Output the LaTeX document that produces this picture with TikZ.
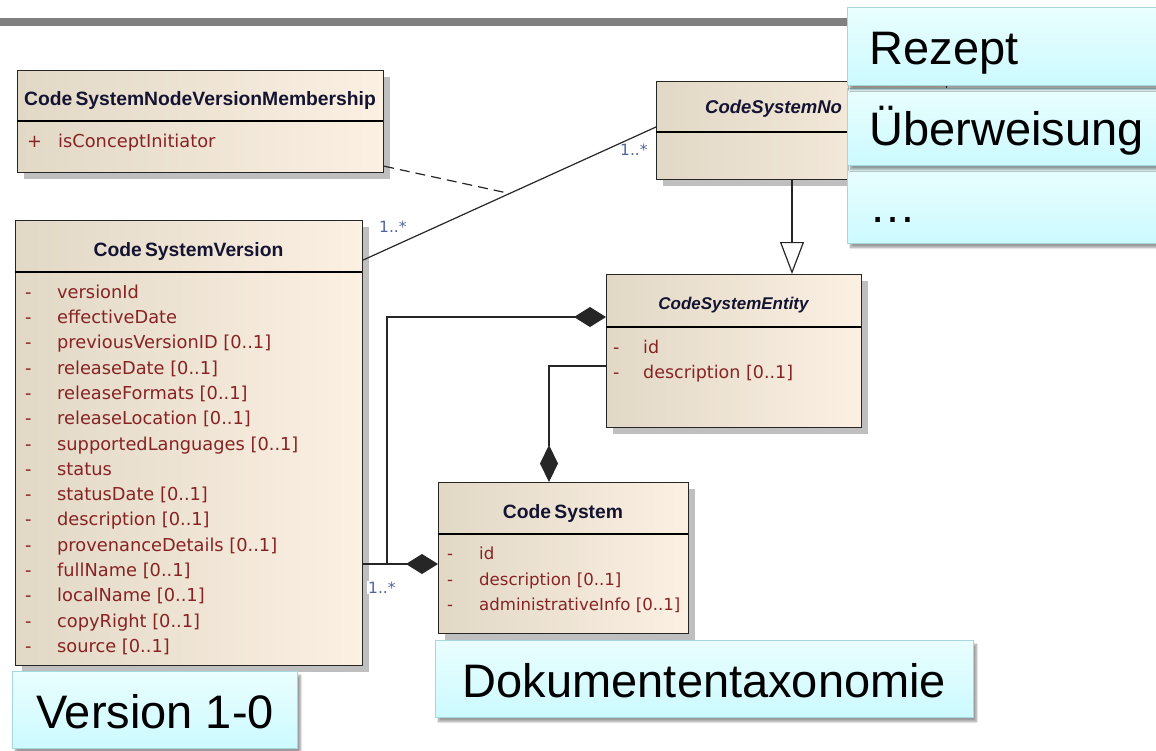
\documentclass[tikz,border=0pt]{standalone}
\usepackage{fontspec}
\setmainfont{Liberation Sans}
\newfontfamily\attrfont{DejaVu Sans}
\usetikzlibrary{arrows.meta,shadows,shadows.blur}

\definecolor{umlleft}{RGB}{226,216,198}
\definecolor{umlright}{RGB}{251,240,226}
\definecolor{umltitle}{RGB}{20,20,50}
\definecolor{umlattr}{RGB}{135,35,35}
\definecolor{multcol}{RGB}{80,100,160}
\definecolor{notetop}{RGB}{234,254,254}
\definecolor{notebot}{RGB}{204,250,255}
\definecolor{noteline}{RGB}{165,215,220}
\definecolor{barcol}{RGB}{128,128,128}

\tikzset{
    umlbox/.style={draw=black!85, line width=1.2pt, left color=umlleft, right color=umlright,
        anchor=north west, inner sep=0pt,
        drop shadow={shadow xshift=6pt, shadow yshift=-6pt, fill=black!25, opacity=1}},
    umlhead/.style={font=\fontsize{19.3}{23}\selectfont\bfseries, text=umltitle, anchor=base, inner sep=0pt},
    umlattrs/.style={font=\attrfont\fontsize{17.8}{25.3}\selectfont, text=umlattr, anchor=north west, inner sep=0pt},
    mult/.style={font=\attrfont\fontsize{15.5}{17}\selectfont, text=multcol, inner sep=1pt, anchor=base west},
    note/.style={draw=noteline, line width=1pt, top color=notetop, bottom color=notebot,
        anchor=north west, inner sep=0pt, text height=36pt, text depth=0pt,
        font=\fontsize{47}{56}\selectfont,
        blur shadow={shadow xshift=3pt, shadow yshift=-4pt, shadow blur steps=6}},
    conn/.style={line width=1.2pt, draw=black!85},
}

\begin{document}
\begin{tikzpicture}[x=1pt, y=-1pt]

    \useasboundingbox (0,0) rectangle (1156,750);

    \fill[barcol] (0,18) rectangle (1156,26);

    % class boxes
    \node[umlbox, minimum width=366pt, minimum height=102pt] (memb) at (17,70) {};
    \node[umlbox, minimum width=347pt, minimum height=445pt] (csv) at (15,220) {};
    \node[umlbox, minimum width=290pt, minimum height=98pt] (csnode) at (656,81) {};
    \node[umlbox, minimum width=255pt, minimum height=153pt] (cse) at (606,274) {};
    \node[umlbox, minimum width=250pt, minimum height=151pt] (cs) at (438,482) {};

    \draw[line width=1.2pt] (memb.north west) ++(0,51) -- ++(366,0);
    \draw[line width=1.2pt] (csv.north west) ++(0,52) -- ++(347,0);
    \draw[line width=1.2pt] (csnode.north west) ++(0,51) -- ++(290,0);
    \draw[line width=1.2pt] (cse.north west) ++(0,53) -- ++(255,0);
    \draw[line width=1.2pt] (cs.north west) ++(0,52) -- ++(250,0);

    \node[umlhead] (membhead) at (200,105) {Code\,SystemNodeVersionMembership};
    \node[umlhead] (csvhead) at (188.5,256) {Code\,SystemVersion};
    \node[umlhead, anchor=base west, font=\fontsize{18.5}{22}\selectfont\bfseries\itshape] (csnodehead) at (705,113) {CodeSystemNo};
    \node[umlhead, font=\fontsize{17}{20}\selectfont\bfseries\itshape] (csehead) at (733.5,309) {CodeSystemEntity};
    \node[umlhead] (cshead) at (563,518) {Code\,System};

    % attributes
    \node[umlattrs] (membattr) at (27,129.3) {\begin{tabular}{@{}p{31pt}@{}l@{}}
        + & isConceptInitiator
    \end{tabular}};
    \node[umlattrs] (csvattr) at (25,280.3) {\begin{tabular}{@{}p{32pt}@{}l@{}}
        - & versionId\\
        - & effectiveDate\\
        - & previousVersionID [0..1]\\
        - & releaseDate [0..1]\\
        - & releaseFormats [0..1]\\
        - & releaseLocation [0..1]\\
        - & supportedLanguages [0..1]\\
        - & status\\
        - & statusDate [0..1]\\
        - & description [0..1]\\
        - & provenanceDetails [0..1]\\
        - & fullName [0..1]\\
        - & localName [0..1]\\
        - & copyRight [0..1]\\
        - & source [0..1]
    \end{tabular}};
    \node[umlattrs, font=\attrfont\fontsize{17.5}{25}\selectfont] (cseattr) at (613,335.3) {\begin{tabular}{@{}p{30pt}@{}l@{}}
        - & id\\
        - & description [0..1]
    \end{tabular}};
    \node[umlattrs, font=\attrfont\fontsize{16.6}{25.7}\selectfont] (csattr) at (447,541.3) {\begin{tabular}{@{}p{32pt}@{}l@{}}
        - & id\\
        - & description [0..1]\\
        - & administrativeInfo [0..1]
    \end{tabular}};

    % association with association class
    \draw[conn] ([yshift=-40pt]csv.north east) -- coordinate[pos=0.5] (amid) ([yshift=-46pt]csnode.north west);
    \draw[conn, dash pattern=on 10pt off 6pt] ([yshift=7pt]memb.south east) -- (amid);
    \node[mult] (m1) at (378,232) {1..*};
    \node[mult] (m2) at (619,155) {1..*};

    % generalization
    \draw[conn, -{Triangle[open, length=32pt, width=24pt, fill=white]}] ([xshift=136pt]csnode.south west) -- ([xshift=186pt]cse.north west);

    % compositions
    \draw[conn, {Diamond[length=32pt, width=20pt]}-] ([yshift=-43pt]cse.north west) -- ++(-219,0) |- ([yshift=-344pt]csv.north east);
    \draw[conn, -{Diamond[length=32pt, width=20pt]}] ([yshift=-344pt]csv.north east) -- ([yshift=-82pt]cs.north west);
    \draw[conn, -{Diamond[length=37pt, width=18pt]}] ([yshift=-92pt]cse.north west) -| ([xshift=111pt]cs.north west);
    \node[mult, fill=white] (m3) at (367,593) {1..*};

    % notes
    \node[note, minimum width=285pt, minimum height=77pt] (version) at (12,671) {Version 1-0};
    \node[note, minimum width=538pt, minimum height=77pt] (taxo) at (435,640) {Dokumententaxonomie};
    \node[note, text width=289pt, align=left, inner xsep=22pt, minimum height=78pt] (dots) at (847,165) {…};
    \node[note, text width=289pt, align=left, inner xsep=22pt, minimum height=77pt] (ueberw) at (847,88) {Überweisung};
    \node[note, text width=289pt, align=left, inner xsep=22pt, minimum height=78pt] (rezept) at (847,7) {Rezept};

\end{tikzpicture}
\end{document}
